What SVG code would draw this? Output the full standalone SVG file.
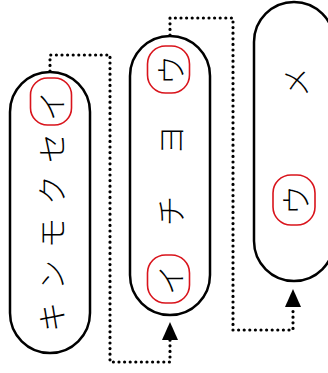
<svg xmlns="http://www.w3.org/2000/svg" width="328" height="373" viewBox="0 0 328 373">
<defs>
<style>
.pill{fill:#fff;stroke:#000;stroke-width:2.5}
.hl{fill:none;stroke:#d9141c;stroke-width:1.6}
.ch{font-family:"Noto Sans CJK JP","Noto Sans",sans-serif;font-size:30px;font-weight:300;fill:#000;text-anchor:middle;dominant-baseline:central}
.dot{fill:none;stroke:#000;stroke-width:3.2;stroke-linecap:round;stroke-dasharray:0 5.6}
</style>
<marker id="arr" viewBox="0 0 10 10" refX="10" refY="5" markerWidth="18" markerHeight="16" markerUnits="userSpaceOnUse" orient="auto" preserveAspectRatio="none">
<path d="M0,0 L10,5 L0,10 z" fill="#000"/>
</marker>
</defs>
<g id="connectors">
<path class="dot" d="M50,71 V55 H110 V362 H170 V337"/>
<path d="M170,338 V322" stroke="none" fill="none" marker-end="url(#arr)"/>
<path class="dot" d="M170,35 V18 H233 V330 H293 V307"/>
<path d="M293,308 V289" stroke="none" fill="none" marker-end="url(#arr)"/>
</g>
<g id="node-kinmokusei">
<rect class="pill" x="10" y="72" width="80" height="281" rx="40"/>
<rect class="hl" x="30.5" y="78" width="41" height="47" rx="17"/>
<text class="ch" transform="rotate(-90 50 106)" x="50" y="106">イ</text>
<text class="ch" transform="rotate(-90 50 148)" x="50" y="148">セ</text>
<text class="ch" transform="rotate(-90 50 190)" x="50" y="190">ク</text>
<text class="ch" transform="rotate(-90 50 233)" x="50" y="233">モ</text>
<text class="ch" transform="rotate(-90 50 275)" x="50" y="275">ン</text>
<text class="ch" transform="rotate(-90 50 317)" x="50" y="317">キ</text>
</g>
<g id="node-ichiyou">
<rect class="pill" x="130" y="36" width="80" height="279" rx="40"/>
<rect class="hl" x="147.5" y="46" width="42" height="47" rx="18"/>
<rect class="hl" x="147.5" y="255" width="42" height="48" rx="18"/>
<text class="ch" transform="rotate(-90 169 70)" x="169" y="70">ウ</text>
<text class="ch" transform="rotate(-90 169 140)" x="169" y="140">ヨ</text>
<text class="ch" transform="rotate(-90 169 211)" x="169" y="211">チ</text>
<text class="ch" transform="rotate(-90 169 280)" x="169" y="280">イ</text>
</g>
<g id="node-ume">
<rect class="pill" x="254" y="2" width="80" height="279" rx="40"/>
<rect class="hl" x="273" y="175" width="42" height="50" rx="18"/>
<text class="ch" transform="rotate(-90 294 82)" x="294" y="82">メ</text>
<text class="ch" transform="rotate(-90 294 200)" x="294" y="200">ウ</text>
</g>
</svg>
